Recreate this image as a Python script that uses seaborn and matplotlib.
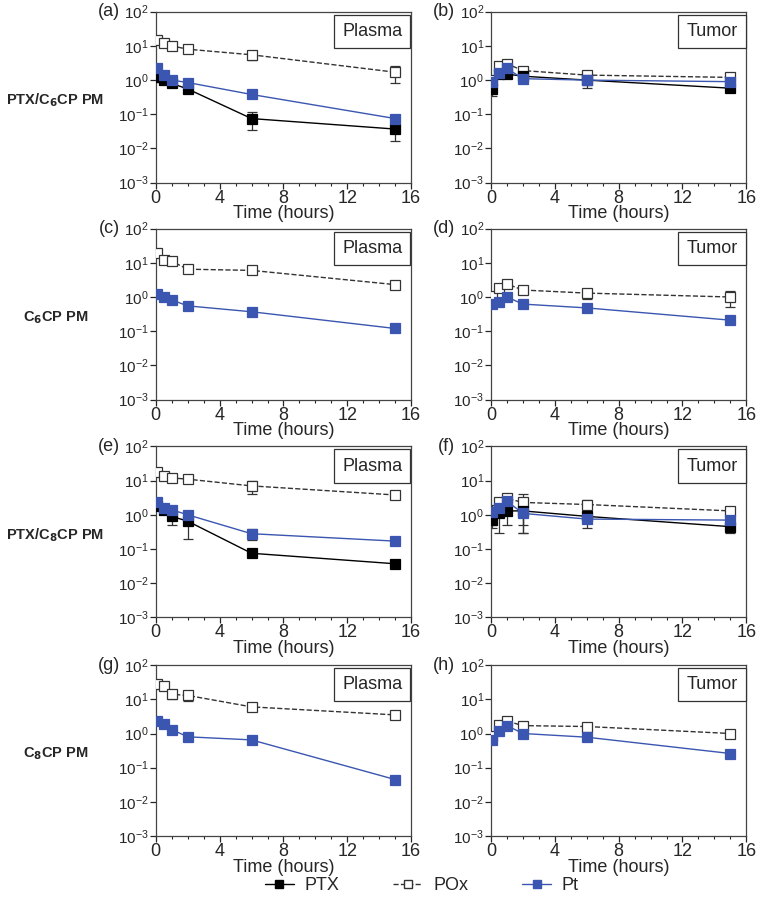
import matplotlib
matplotlib.use("Agg")
import matplotlib.pyplot as plt
import matplotlib.ticker as mticker
import numpy as np
import pandas as pd
import seaborn as sns

sns.set_theme(style="ticks")
plt.rcParams['font.family'] = ['Liberation Sans', 'DejaVu Sans']

time = [0.083, 0.5, 1, 2, 6, 15]

# (a) PTX/C6CP PM plasma
a_ptx = [1.2, 1.0, 0.8, 0.55, 0.075, 0.037]
a_ptx_err = [0.3, 0.2, 0.1, 0.08, 0.04, 0.02]
a_pox = [15, 12, 10, 8, 5.5, 1.7]
a_pox_err = [3, 2, 2, 1.5, 1.5, 0.9]
a_pt = [2.2, 1.4, 1.0, 0.85, 0.38, 0.075]
a_pt_err = [0.3, 0.15, 0.1, 0.08, 0.05, 0.01]
# (b) PTX/C6CP PM tumor
b_ptx = [0.55, 1.5, 1.5, 1.3, 1.0, 0.58]
b_ptx_err = [0.2, 0.3, 0.3, 0.2, 0.4, 0.08]
b_pox = [1.0, 2.5, 3.0, 1.9, 1.4, 1.2]
b_pox_err = [0.2, 0.4, 0.5, 0.2, 0.2, 0.1]
b_pt = [0.9, 1.6, 2.2, 1.1, 1.0, 0.9]
b_pt_err = [0.1, 0.2, 0.3, 0.1, 0.1, 0.1]
# (c) C6CP PM plasma
c_pox = [20, 12, 11, 6.5, 6, 2.3]
c_pox_err = [2, 1, 1, 0.6, 1.0, 0.3]
c_pt = [1.2, 1.0, 0.82, 0.55, 0.37, 0.12]
c_pt_err = [0.1, 0.08, 0.05, 0.05, 0.03, 0.01]
# (d) C6CP PM tumor
d_pox = [1.1, 1.8, 2.4, 1.6, 1.3, 1.0]
d_pox_err = [0.2, 0.3, 0.6, 0.2, 0.4, 0.5]
d_pt = [0.62, 0.72, 1.0, 0.62, 0.48, 0.21]
d_pt_err = [0.05, 0.05, 0.1, 0.05, 0.04, 0.02]
# (e) PTX/C8CP PM plasma
e_ptx = [1.8, 1.4, 0.9, 0.65, 0.075, 0.037]
e_ptx_err = [0.3, 0.3, 0.4, 0.45, 0.01, 0.005]
e_pox = [18, 14, 12, 11, 7, 3.8]
e_pox_err = [3, 3, 3, 2, 3, 0.6]
e_pt = [2.3, 1.6, 1.4, 1.0, 0.28, 0.17]
e_pt_err = [0.3, 0.2, 0.2, 0.1, 0.1, 0.04]
# (f) PTX/C8CP PM tumor
f_ptx = [0.7, 1.1, 1.3, 1.3, 0.9, 0.45]
f_ptx_err = [0.2, 0.8, 0.8, 1.0, 0.3, 0.15]
f_pox = [1.2, 2.3, 3.0, 2.3, 2.0, 1.3]
f_pox_err = [0.8, 0.6, 0.6, 1.8, 0.8, 0.3]
f_pt = [1.2, 1.6, 2.5, 1.1, 0.75, 0.7]
f_pt_err = [0.3, 0.3, 0.4, 0.8, 0.35, 0.2]
# (g) C8CP PM plasma
g_pox = [28, 25, 14, 13, 6, 3.5]
g_pox_err = [7, 4, 4, 4, 1, 0.5]
g_pt = [2.3, 1.9, 1.3, 0.8, 0.65, 0.045]
g_pt_err = [0.2, 0.15, 0.1, 0.05, 0.05, 0.004]
# (h) C8CP PM tumor
h_pox = [0.85, 1.8, 2.3, 1.7, 1.6, 1.0]
h_pox_err = [0.1, 0.3, 0.8, 0.2, 0.4, 0.1]
h_pt = [0.65, 1.2, 1.7, 1.0, 0.78, 0.26]
h_pt_err = [0.05, 0.1, 0.2, 0.08, 0.06, 0.02]

panels = [
    ("(a)", "Plasma", {"PTX": (a_ptx, a_ptx_err), "POx": (a_pox, a_pox_err), "Pt": (a_pt, a_pt_err)}),
    ("(b)", "Tumor", {"PTX": (b_ptx, b_ptx_err), "POx": (b_pox, b_pox_err), "Pt": (b_pt, b_pt_err)}),
    ("(c)", "Plasma", {"POx": (c_pox, c_pox_err), "Pt": (c_pt, c_pt_err)}),
    ("(d)", "Tumor", {"POx": (d_pox, d_pox_err), "Pt": (d_pt, d_pt_err)}),
    ("(e)", "Plasma", {"PTX": (e_ptx, e_ptx_err), "POx": (e_pox, e_pox_err), "Pt": (e_pt, e_pt_err)}),
    ("(f)", "Tumor", {"PTX": (f_ptx, f_ptx_err), "POx": (f_pox, f_pox_err), "Pt": (f_pt, f_pt_err)}),
    ("(g)", "Plasma", {"POx": (g_pox, g_pox_err), "Pt": (g_pt, g_pt_err)}),
    ("(h)", "Tumor", {"POx": (h_pox, h_pox_err), "Pt": (h_pt, h_pt_err)}),
]
row_labels = [r"PTX/C$_\mathbf{6}$CP PM", r"C$_\mathbf{6}$CP PM",
              r"PTX/C$_\mathbf{8}$CP PM", r"C$_\mathbf{8}$CP PM"]
y_ticks = [1e-3, 1e-2, 1e-1, 1e0, 1e1, 1e2]

blue = "#3a56b0"
styles = {
    "PTX": dict(color="black", mfc="black", mec="black", ls="-"),
    "POx": dict(color="#333333", mfc="white", mec="#333333", ls="--"),
    "Pt": dict(color=blue, mfc=blue, mec=blue, ls="-"),
}

fig = plt.figure(figsize=[7.6, 9.0], dpi=100)
lefts = [0.205, 0.646]
bottoms = [0.797, 0.556, 0.314, 0.071]
w, h = 0.336, 0.19

for i, (letter, tissue, series) in enumerate(panels):
    r, c = divmod(i, 2)
    ax = fig.add_axes([lefts[c], bottoms[r], w, h])
    for name in ["POx", "PTX", "Pt"]:
        if name not in series:
            continue
        vals, err = series[name]
        st = styles[name]
        df = pd.DataFrame({"t": time, "v": vals})
        ax.errorbar(time, vals, yerr=err, fmt="none", ecolor="#333333",
                    elinewidth=0.9, capsize=3.5, capthick=0.9, zorder=2)
        sns.lineplot(data=df, x="t", y="v", ax=ax, color=st["color"], linestyle=st["ls"],
                     linewidth=1.0, marker="s", markersize=7, markerfacecolor=st["mfc"],
                     markeredgecolor=st["mec"], markeredgewidth=0.9, zorder=3, legend=False)
    ax.set_yscale("log")
    ax.set_ylim(1e-3, 1e2)
    ax.set_yticks(y_ticks)
    ax.set_xlim(0, 16)
    ax.set_xticks([0, 4, 8, 12, 16])
    ax.xaxis.set_minor_locator(mticker.MultipleLocator(1))
    ax.yaxis.set_minor_locator(mticker.NullLocator())
    ax.yaxis.set_major_formatter(mticker.LogFormatterMathtext())
    ax.tick_params(axis="x", labelsize=13, length=4, width=0.9, pad=1)
    ax.tick_params(axis="x", which="minor", length=2.5, width=0.8)
    ax.tick_params(axis="y", labelsize=11, length=4, width=0.9, pad=1)
    for sp in ax.spines.values():
        sp.set_linewidth(0.9)
        sp.set_color("#444444")
    ax.set_xlabel("Time (hours)", fontsize=13, labelpad=-1)
    ax.set_ylabel("")
    ax.text(0.965, 0.935, tissue, transform=ax.transAxes, ha="right", va="top", fontsize=13,
            bbox=dict(boxstyle="square,pad=0.45", fc="white", ec="#333333", lw=0.9))
    ax.text(-0.14, 1.0, letter, transform=ax.transAxes, ha="right", va="center", fontsize=13)
    if c == 0:
        fig.text(0.073, bottoms[r] + h * 0.48, row_labels[r], ha="center", va="center",
                 fontsize=10.5, fontweight="bold")

handles = [plt.Line2D([], [], color=styles[n]["color"], ls=styles[n]["ls"], marker="s",
                      markersize=6, markerfacecolor=styles[n]["mfc"],
                      markeredgecolor=styles[n]["mec"], lw=1.0)
           for n in ["PTX", "POx", "Pt"]]
fig.legend(handles, ["PTX", "POx", "Pt"], loc="center", bbox_to_anchor=(0.555, 0.016), ncol=3,
           frameon=False, fontsize=13, handlelength=1.6, handletextpad=0.6, columnspacing=3.0)

plt.savefig("out.png", dpi=100)
